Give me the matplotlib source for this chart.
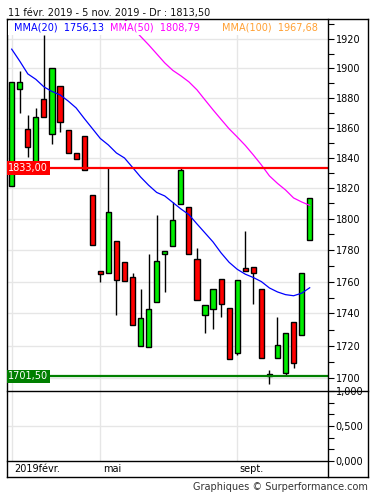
import numpy as np
import matplotlib
matplotlib.use("Agg")
import matplotlib.pyplot as plt
from matplotlib.ticker import FixedLocator, FuncFormatter, NullFormatter
from matplotlib.patches import Rectangle
from matplotlib.lines import Line2D

# ---------------- data (weekly candles) ----------------
opens = [1821.6, 1885.7, 1858.9, 1835.0, 1879.0, 1855.5, 1887.8, 1858.2, 1842.9, 1854.6,
         1815.6, 1766.7, 1765.3, 1785.7, 1772.2, 1762.7, 1719.8, 1719.2, 1747.0, 1777.3,
         1782.6, 1809.7, 1807.5, 1774.2, 1738.9, 1742.6, 1761.9, 1743.2, 1715.7, 1768.4,
         1769.4, 1755.1, 1702.8, 1712.4, 1703.4, 1734.9, 1726.6, 1786.3]
highs = [1890.5, 1898.2, 1868.2, 1872.9, 1922.8, 1900.0, 1887.8, 1858.2, 1842.9, 1854.6,
         1815.6, 1766.7, 1833.0, 1785.7, 1772.2, 1765.3, 1755.1, 1777.5, 1802.6, 1779.3,
         1811.2, 1833.0, 1807.5, 1781.2, 1745.3, 1755.1, 1761.9, 1743.2, 1760.8, 1792.2,
         1769.4, 1755.1, 1705.1, 1738.0, 1728.0, 1734.9, 1765.3, 1813.5]
lows = [1821.6, 1869.6, 1840.7, 1835.0, 1866.9, 1848.9, 1857.3, 1842.9, 1838.9, 1831.9,
        1783.3, 1760.0, 1765.3, 1739.0, 1760.2, 1732.6, 1719.8, 1719.2, 1747.0, 1753.6,
        1782.6, 1809.7, 1777.5, 1748.4, 1727.7, 1730.2, 1738.0, 1711.6, 1714.1, 1766.9,
        1745.7, 1712.2, 1696.3, 1712.4, 1701.9, 1706.5, 1726.6, 1786.3]
closes = [1890.5, 1890.5, 1847.3, 1867.3, 1866.9, 1900.0, 1863.7, 1842.9, 1838.9, 1831.9,
          1783.3, 1764.8, 1804.3, 1760.8, 1760.2, 1732.6, 1737.0, 1742.6, 1772.9, 1779.3,
          1799.3, 1832.0, 1777.5, 1748.4, 1745.3, 1755.1, 1745.7, 1711.6, 1760.8, 1766.9,
          1765.3, 1712.2, 1701.5, 1720.3, 1728.0, 1709.5, 1765.3, 1813.5]

mma20 = [1913.0, 1904.8, 1896.1, 1892.4, 1887.3, 1884.2, 1881.9, 1877.8, 1873.1, 1866.1,
         1859.4, 1852.7, 1848.4, 1843.1, 1839.8, 1833.6, 1827.3, 1821.9, 1817.2, 1814.9,
         1810.7, 1806.5, 1802.8, 1796.8, 1791.0, 1785.2, 1778.2, 1772.2, 1767.8, 1764.7,
         1762.6, 1760.0, 1756.0, 1753.5, 1751.8, 1751.1, 1752.7, 1756.13]
# MMA(50): only visible part (earlier values lie above the chart)
mma50_start = 14
mma50 = [1933.9, 1927.7, 1921.8, 1916.0, 1909.8, 1903.6, 1898.5, 1894.8, 1890.7, 1885.3,
         1878.5, 1871.8, 1865.4, 1859.1, 1853.7, 1848.1, 1841.8, 1835.2, 1828.0, 1823.1,
         1818.8, 1813.6, 1811.0, 1808.79]

resistance = 1833.00
support = 1701.50

month_labels = ["2019févr.", "mai", "sept."]
month_pos = [0, 11, 28]

title = "11 févr. 2019 - 5 nov. 2019 - Dr : 1813,50"
legend_items = [("MMA(20)", "1756,13", "#0000ff"),
                ("MMA(50)", "1808,79", "#ff00ff"),
                ("MMA(100)", "1967,68", "#ffa033")]

# ---------------- layout helpers ----------------
W, H = 375, 495
fig = plt.figure(figsize=(W / 100, H / 100), dpi=100)
fig.patch.set_facecolor("white")

def fx(px):
    return px / W

def fy(py):
    return 1 - py / H

L, R = 6.7, 327.5
RF = 368.0
T, MB, LB, FB = 19.0, 391.0, 461.0, 477.0

GRID = "#e6e6e6"
FS = 7

# main axes
ax = fig.add_axes([fx(L), fy(MB), fx(R) - fx(L), fy(T) - fy(MB)])
ax.set_yscale("log")
ax.set_ylim(1692.3, 1933.8)
ax.set_xlim(-0.621, 39.21)
for s in ax.spines.values():
    s.set_visible(False)
ax.set_xticks([])
ax.yaxis.tick_right()
ax.yaxis.set_major_locator(FixedLocator(list(range(1700, 1921, 20))))
ax.yaxis.set_minor_locator(FixedLocator(list(range(1690, 1931, 10))))
ax.yaxis.set_major_formatter(FuncFormatter(lambda v, p: f"{int(round(v))}"))
ax.yaxis.set_minor_formatter(NullFormatter())
ax.tick_params(axis="y", which="both", length=4, width=0.8, direction="out",
               pad=2, labelsize=FS, colors="black")
for v in range(1700, 1921, 20):
    ax.axhline(v, color=GRID, lw=1, zorder=0)
for p in month_pos:
    ax.axvline(p, color=GRID, lw=1, zorder=0)

x = np.arange(len(opens))
o = np.array(opens); c = np.array(closes)
hi = np.array(highs); lo = np.array(lows)
ax.vlines(x, lo, hi, color="black", lw=1, zorder=2)
up = c >= o
colors = np.where(up, "#00ee00", "#ff0000")
bottoms = np.minimum(o, c)
heights = np.maximum(np.abs(c - o), 0.8)
ax.bar(x, heights, bottom=bottoms, width=0.64, color=colors, edgecolor="black",
       linewidth=1, zorder=3)

ax.plot(x, mma20, color="#0000ff", lw=0.9, zorder=4)
x50 = np.arange(mma50_start, mma50_start + len(mma50))
ax.plot(x50, mma50, color="#ff00ff", lw=0.9, zorder=4)

ax.axhline(resistance, color="#ff0000", lw=1.6, zorder=5)
ax.axhline(support, color="#008000", lw=1.6, zorder=5)

# lower (empty) panel
ax2 = fig.add_axes([fx(L), fy(LB), fx(R) - fx(L), fy(MB) - fy(LB)])
ax2.set_xlim(-0.621, 39.21)
ax2.set_ylim(0, 1)
for s in ax2.spines.values():
    s.set_visible(False)
ax2.set_xticks([])
ax2.yaxis.tick_right()
ax2.yaxis.set_major_locator(FixedLocator([0, 0.5, 1.0]))
ax2.yaxis.set_minor_locator(FixedLocator([1 / 6, 2 / 6, 4 / 6, 5 / 6]))
ax2.yaxis.set_major_formatter(FuncFormatter(lambda v, p: f"{v:.3f}".replace(".", ",")))
ax2.tick_params(axis="y", which="both", length=4, width=0.8, direction="out",
                pad=2, labelsize=FS, colors="black")
ax2.axhline(0.5, color=GRID, lw=1, zorder=0)
for p in month_pos:
    ax2.axvline(p, color=GRID, lw=1, zorder=0)

# frame lines
def hline(py, x0, x1, lw=1.0):
    fig.add_artist(Line2D([fx(x0), fx(x1)], [fy(py), fy(py)], color="black", lw=lw))

def vline(px, y0, y1, lw=1.0):
    fig.add_artist(Line2D([fx(px), fx(px)], [fy(y0), fy(y1)], color="black", lw=lw))

hline(T, L, RF)
hline(FB, L, RF)
hline(MB, L, RF)
hline(LB, L, R)
vline(L, T, FB)
vline(RF, T, FB)
vline(R, T, FB)

# date labels
xs = lambda i: L + (i + 0.621) / (39.21 + 0.621) * (R - L)
for lab, p in zip(month_labels, month_pos):
    fig.text(fx(xs(p) + 2.5), fy(469.5), lab, fontsize=FS, ha="left", va="center",
             color="black")

# title and legend (legend sits on a white band over the plot)
fig.text(fx(8.5), fy(13), title, fontsize=FS, ha="left", va="center", color="#111111")
fig.add_artist(Rectangle((fx(L + 1), fy(35)), fx(316) - fx(L + 1), fy(21) - fy(35),
                         transform=fig.transFigure, facecolor="white",
                         edgecolor="none", zorder=8))
lx = [14, 110, 222]
for (name, val, col), px in zip(legend_items, lx):
    fig.text(fx(px), fy(28), name + "  " + val, fontsize=FS, ha="left", va="center",
             color=col, zorder=9)

# level boxes
def level_box(py0, py1, text, col):
    fig.add_artist(Rectangle((fx(L), fy(py1)), fx(50) - fx(L), fy(py0) - fy(py1),
                             transform=fig.transFigure, facecolor=col, edgecolor="none",
                             zorder=10))
    fig.text(fx((L + 50) / 2), fy((py0 + py1) / 2), text, fontsize=FS, ha="center",
             va="center", color="white", zorder=11)

level_box(161.5, 175.0, "1833,00", "#ff0000")
level_box(369.5, 383.0, "1701,50", "#007f00")

fig.text(fx(368), fy(487), "Graphiques © Surperformance.com", fontsize=FS,
         ha="right", va="center", color="#333333")

fig.savefig("out.png", dpi=100, facecolor="white")
